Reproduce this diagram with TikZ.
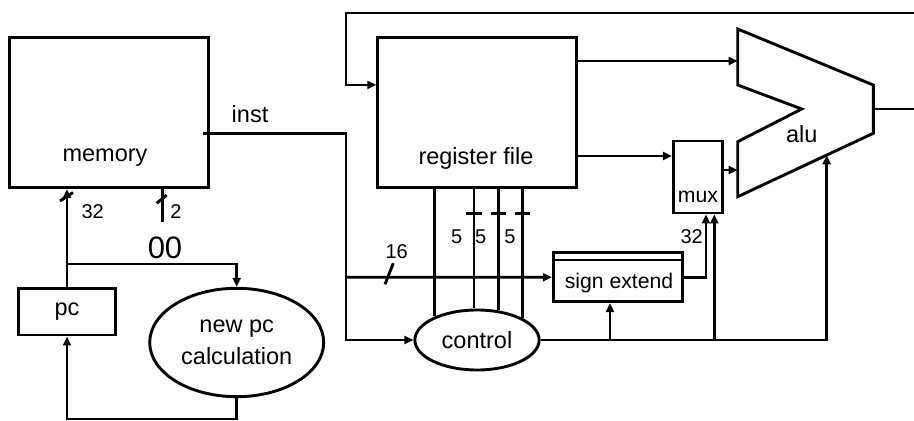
\documentclass[tikz,border=0pt]{standalone}
\usepackage{fontspec}
\setmainfont{Liberation Sans}
\usetikzlibrary{arrows.meta,shapes.geometric}
\begin{document}
\begin{tikzpicture}[x=0.5pt,y=-0.5pt,
  line width=1.45pt, line join=miter,
  box/.style={draw, rectangle, inner sep=0pt, font=\fontsize{11.75}{14}\selectfont},
  ell/.style={draw, ellipse, inner sep=0pt, align=center, font=\fontsize{11.75}{15.8}\selectfont},
  txt/.style={inner sep=0pt, font=\fontsize{11.75}{14}\selectfont},
  small/.style={inner sep=0pt, font=\fontsize{10.6}{12}\selectfont},
  num/.style={inner sep=0pt, font=\fontsize{10}{12}\selectfont},
  big/.style={inner sep=0pt, font=\fontsize{15.5}{18}\selectfont},
  arr/.style={-{Triangle[length=4.5pt,width=4pt]}},
]
\useasboundingbox (0,0) rectangle (914,421);

% blocks
\node[box, minimum width=99.3pt, minimum height=75.2pt] (mem) at (109,112.5) {};
\node[txt] (memt) at (105,158) {memory};
\node[box, minimum width=99.5pt, minimum height=75.3pt] (rf) at (477.2,112.6) {};
\node[txt] (rft) at (476,158) {register file};
\node[box, minimum width=48.85pt, minimum height=23.35pt] (pc) at (67,311.7) {pc};
\node[ell, minimum width=87pt, minimum height=54.2pt] (npc) at (236.7,342.5) {new pc\\calculation};
\node[ell, minimum width=62.15pt, minimum height=30pt, font=\fontsize{11.75}{14}\selectfont] (ctl) at (477,340) {control};
\node[box, minimum width=64.5pt, minimum height=24.5pt] (se) at (617.8,277.2) {};
\draw[line width=1pt] ([yshift=-4.15pt]se.north west) -- ([yshift=-4.15pt]se.north east);
\node[small] (set) at (619,283) {sign extend};
\node[box, minimum width=24.5pt, minimum height=36pt] (mux) at (697.8,177) {};
\node[small] (muxt) at (698,197) {mux};

% alu
\draw (737.7,29) -- (873.3,85) -- (873.3,133.3) -- (737.7,196.7) -- (737.7,141.7) -- (801.7,109) -- (737.7,85) -- cycle;
\node[txt] (alut) at (801.7,134) {alu};
\coordinate (aluin1) at (737.7,61);
\coordinate (aluin2) at (737.7,170);
\coordinate (aluout) at (873.3,109);
\coordinate (alubot) at (826.7,155.3);

% inst
\coordinate (instS) at (202.7,133.3);
\coordinate (jA) at (346,133.3);
\draw[arr] (instS) -- (jA) |- (ctl.west);
\node[txt] (instt) at (250,114) {inst};

% feedback from alu
\coordinate (rout) at (914,109);
\coordinate (rtop) at (914,13);
\coordinate (ftop) at (346,13);
\draw (aluout) -- (rout);
\draw[arr] (rtop) -- (ftop) |- (rf.west |- 0,85);

% register file outputs
\draw[arr] (rf.east |- 0,61) -- (aluin1);
\draw[arr] (rf.east |- 0,156) -- (mux.west |- 0,156);
\draw[arr] (mux.east |- 0,170) -- (aluin2);

% register fields to control
\draw (rf.south -| 434.3,0) -- (434.3,316.5);
\draw (rf.south -| 474,0) -- (474,308.5);
\draw (rf.south -| 498.3,0) -- (498.3,310.2);
\draw (rf.south -| 522.3,0) -- (522.3,317.6);
\draw (466.2,213.3) -- (481.8,213.3);
\draw (490.5,213.3) -- (506.1,213.3);
\draw (514.5,213.3) -- (530.1,213.3);
\node[num] (l5a) at (456.7,236.7) {5};
\node[num] (l5b) at (480.7,236.7) {5};
\node[num] (l5c) at (510,236.7) {5};

% immediate
\coordinate (jB) at (346,277.3);
\draw[arr] (jB) -- (se.west);
\draw (385,284.3) -- (393.3,263.3);
\node[num] (l16) at (396.7,251.7) {16};
\draw[arr] (se.east) -| (mux.south -| 706,0);
\node[num] (l32b) at (691.7,236.7) {32};

% control outputs
\draw[arr] (ctl.east) -| (alubot);
\draw[arr] (ctl.east -| 610,0) -- (se.south -| 610,0);
\draw[arr] (ctl.east -| 714.3,0) -- (mux.south -| 714.3,0);

% pc side
\draw[arr] (pc.north) -- (pc.north |- mem.south);
\draw (60,201) -- (73,192.5);
\node[num] (l32a) at (92.7,211.7) {32};
\coordinate (m2) at (162.7,221.7);
\draw (m2) -- (mem.south -| m2);
\draw (156.7,203.3) -- (166.7,195);
\node[num] (l2) at (176,211.7) {2};
\node[big] (l00) at (165,248.3) {00};
\coordinate (jC) at (pc.north |- 0,264);
\draw[arr] (jC) -| (npc.north);
\coordinate (bot) at (0,419);
\draw[arr] (npc.south) -- (npc.south |- bot) -| (pc.south);
\end{tikzpicture}
\end{document}
